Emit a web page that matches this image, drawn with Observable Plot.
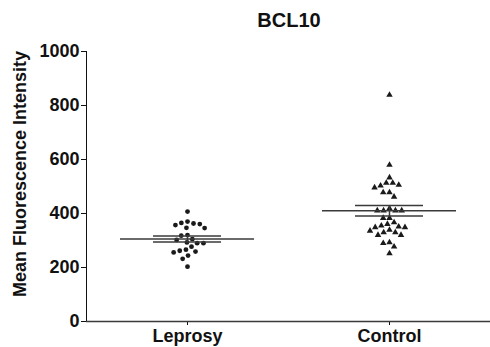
<!DOCTYPE html>
<html>
<head>
<meta charset="utf-8">
<script src="https://cdn.jsdelivr.net/npm/d3@7"></script>
<script src="https://cdn.jsdelivr.net/npm/@observablehq/plot@0.6"></script>
<style>
  html, body { margin: 0; padding: 0; background: #fff; }
  #wrap { position: relative; width: 490px; height: 347px; font-family: "Liberation Sans", Arial, sans-serif; color: #111; }
  #title { position: absolute; left: 289px; top: 10px; transform: translateX(-50%); font-size: 20px; font-weight: bold; line-height: 1; white-space: nowrap; }
  #ylabel { position: absolute; left: 20px; top: 174px; transform: translate(-50%, -50%) rotate(-90deg); font-size: 18px; font-weight: bold; line-height: 1; white-space: nowrap; }
  svg { overflow: visible; }
  svg text { font-size: 18px !important; font-weight: bold; font-family: "Liberation Sans", Arial, sans-serif; fill: #111; }
</style>
</head>
<body>
<div id="wrap">
  <div id="title">BCL10</div>
  <div id="ylabel">Mean Fluorescence Intensity</div>
</div>
<script>
const titleText = "BCL10";
const yLabel = "Mean Fluorescence Intensity";
const groups = ["Leprosy", "Control"];
const leprosy = [407, 370, 365, 363, 361, 357, 347, 346, 320, 318, 305, 302, 293, 290, 290, 277, 266, 262, 259, 256, 244, 232, 203];
const control = [839, 580, 533, 513, 513, 506, 503, 496, 478, 478, 462, 419, 411, 411, 411, 411, 383, 383, 367, 361, 355, 351, 349, 349, 339, 336, 330, 330, 320, 320, 293, 290, 277, 252];
const yTicks = [0, 200, 400, 600, 800, 1000];

const series = {Leprosy: leprosy, Control: control};
const data = groups.flatMap(g => series[g].map(v => ({group: g, value: v})));
const summary = groups.map(g => {
  const v = series[g];
  const m = d3.mean(v);
  const s = d3.deviation(v) / Math.sqrt(v.length);
  return {group: g, mean: m, lo: m - s, hi: m + s};
});

const ink = "#1a1a1a";
const lineInk = "#3a3a3a";

const chart = Plot.plot({
  width: 490,
  height: 347,
  marginLeft: 86,
  marginRight: 0,
  marginTop: 51,
  marginBottom: 26,
  style: {fontFamily: "'Liberation Sans', Arial, sans-serif", fontWeight: "bold", fontSize: "18px", color: "#111", background: "transparent"},
  y: {domain: [0, 1000], ticks: yTicks, tickFormat: d => String(d), tickSize: 5, tickPadding: 2, line: true, label: null},
  x: {domain: [-1, 1], axis: null},
  fx: {domain: groups, padding: 0, label: null, axis: "bottom", tickSize: 4, tickPadding: 4},
  symbol: {domain: groups, range: ["circle", "triangle"]},
  marks: [
    Plot.ruleY([0], {stroke: lineInk, strokeWidth: 1.5}),
    Plot.dot(data, Plot.dodgeX({anchor: "middle", padding: 1.5}, {fx: "group", y: "value", r: 2.4, symbol: "group", fill: ink, stroke: "none"})),
    Plot.tickY(summary, {fx: "group", y: "mean", insetLeft: 34, insetRight: 34, stroke: lineInk, strokeWidth: 1.5}),
    Plot.tickY(summary, {fx: "group", y: "lo", insetLeft: 67, insetRight: 67, stroke: lineInk, strokeWidth: 1.5}),
    Plot.tickY(summary, {fx: "group", y: "hi", insetLeft: 67, insetRight: 67, stroke: lineInk, strokeWidth: 1.5}),
    Plot.ruleX(summary, {fx: "group", x: () => 0, y1: "lo", y2: "hi", stroke: lineInk, strokeWidth: 1.5})
  ]
});
chart.style.position = "absolute";
chart.style.left = "0";
chart.style.top = "0";
const wrap = document.getElementById("wrap");
wrap.insertBefore(chart, wrap.firstChild);
document.getElementById("title").textContent = titleText;
document.getElementById("ylabel").textContent = yLabel;
</script>
</body>
</html>
